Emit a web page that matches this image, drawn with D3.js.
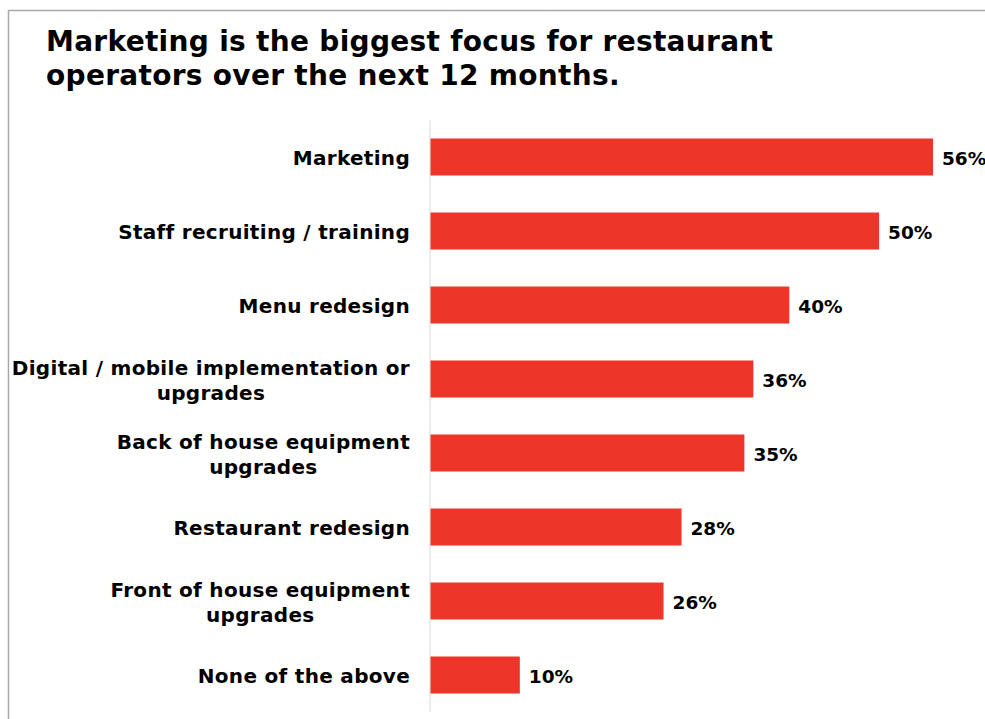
<!DOCTYPE html>
<html>
<head>
<meta charset="utf-8">
<script src="https://cdn.jsdelivr.net/npm/d3@7"></script>
<style>
  html, body { margin: 0; padding: 0; background: #fff; }
  svg { display: block; }
  text { font-family: "DejaVu Sans", Verdana, sans-serif; font-weight: bold; fill: #000; }
</style>
</head>
<body>
<svg id="chart" width="985" height="719"></svg>
<script>
// Share of operators naming each area as a focus (%)
const categories = [
  "Marketing",
  "Staff recruiting / training",
  "Menu redesign",
  "Digital / mobile implementation or|upgrades",
  "Back of house equipment|upgrades",
  "Restaurant redesign",
  "Front of house equipment|upgrades",
  "None of the above"
];
const values = [56, 50, 40, 36, 35, 28, 26, 10];
const titleLines = [
  "Marketing is the biggest focus for restaurant",
  "operators over the next 12 months."
];

const svg = d3.select("#chart");

// frame
svg.append("rect")
  .attr("x", 8.5).attr("y", 10.5)
  .attr("width", 1100).attr("height", 800)
  .attr("fill", "none").attr("stroke", "#aaaaaa").attr("stroke-width", 1.5);

// title
svg.append("text")
  .attr("x", 46).attr("y", 51)
  .attr("font-size", 28)
  .attr("letter-spacing", 0.3)
  .selectAll("tspan")
  .data(titleLines)
  .join("tspan")
  .attr("x", 46)
  .attr("dy", (d, i) => i === 0 ? 0 : 34)
  .text(d => d);

const x0 = 430;
const x = d3.scaleLinear().domain([0, 56]).range([x0, 933]);
const y = d3.scaleBand().domain(categories).range([120, 712])
  .paddingInner(0.5).paddingOuter(0.25);

// axis line
svg.append("line")
  .attr("x1", x0).attr("x2", x0)
  .attr("y1", 120).attr("y2", 712)
  .attr("stroke", "#d9d9d9").attr("stroke-width", 1);

const data = categories.map((c, i) => ({ c, v: values[i] }));

svg.selectAll("rect.bar")
  .data(data)
  .join("rect")
  .attr("class", "bar")
  .attr("x", x0 + 0.5)
  .attr("y", d => y(d.c))
  .attr("width", d => x(d.v) - x0 - 0.5)
  .attr("height", y.bandwidth())
  .attr("fill", "#ee352a");

// category labels
const labels = svg.selectAll("text.cat")
  .data(data)
  .join("text")
  .attr("class", "cat")
  .attr("text-anchor", "middle")
  .attr("font-size", 20)
  .attr("letter-spacing", 0.3);

labels.each(function(d) {
  const lines = d.c.split("|");
  const cy = y(d.c) + y.bandwidth() / 2;
  const t = d3.select(this);
  const lh = 25;
  const startY = cy - (lines.length - 1) * lh / 2 + 8;
  t.selectAll("tspan")
    .data(lines)
    .join("tspan")
    .attr("y", (l, i) => startY + i * lh)
    .text(l => l);
});

// right-align the widest line to x=410, center others on it
labels.each(function() {
  const t = d3.select(this);
  const spans = t.selectAll("tspan").nodes();
  const widths = spans.map(s => s.getComputedTextLength());
  const maxW = d3.max(widths);
  const center = 410 - maxW / 2;
  t.selectAll("tspan").attr("x", center);
});

// value labels
svg.selectAll("text.val")
  .data(data)
  .join("text")
  .attr("class", "val")
  .attr("font-size", 18.5)
  .attr("x", d => x(d.v) + 9)
  .attr("y", d => y(d.c) + y.bandwidth() / 2 + 8)
  .text(d => d.v + "%");
</script>
</body>
</html>
